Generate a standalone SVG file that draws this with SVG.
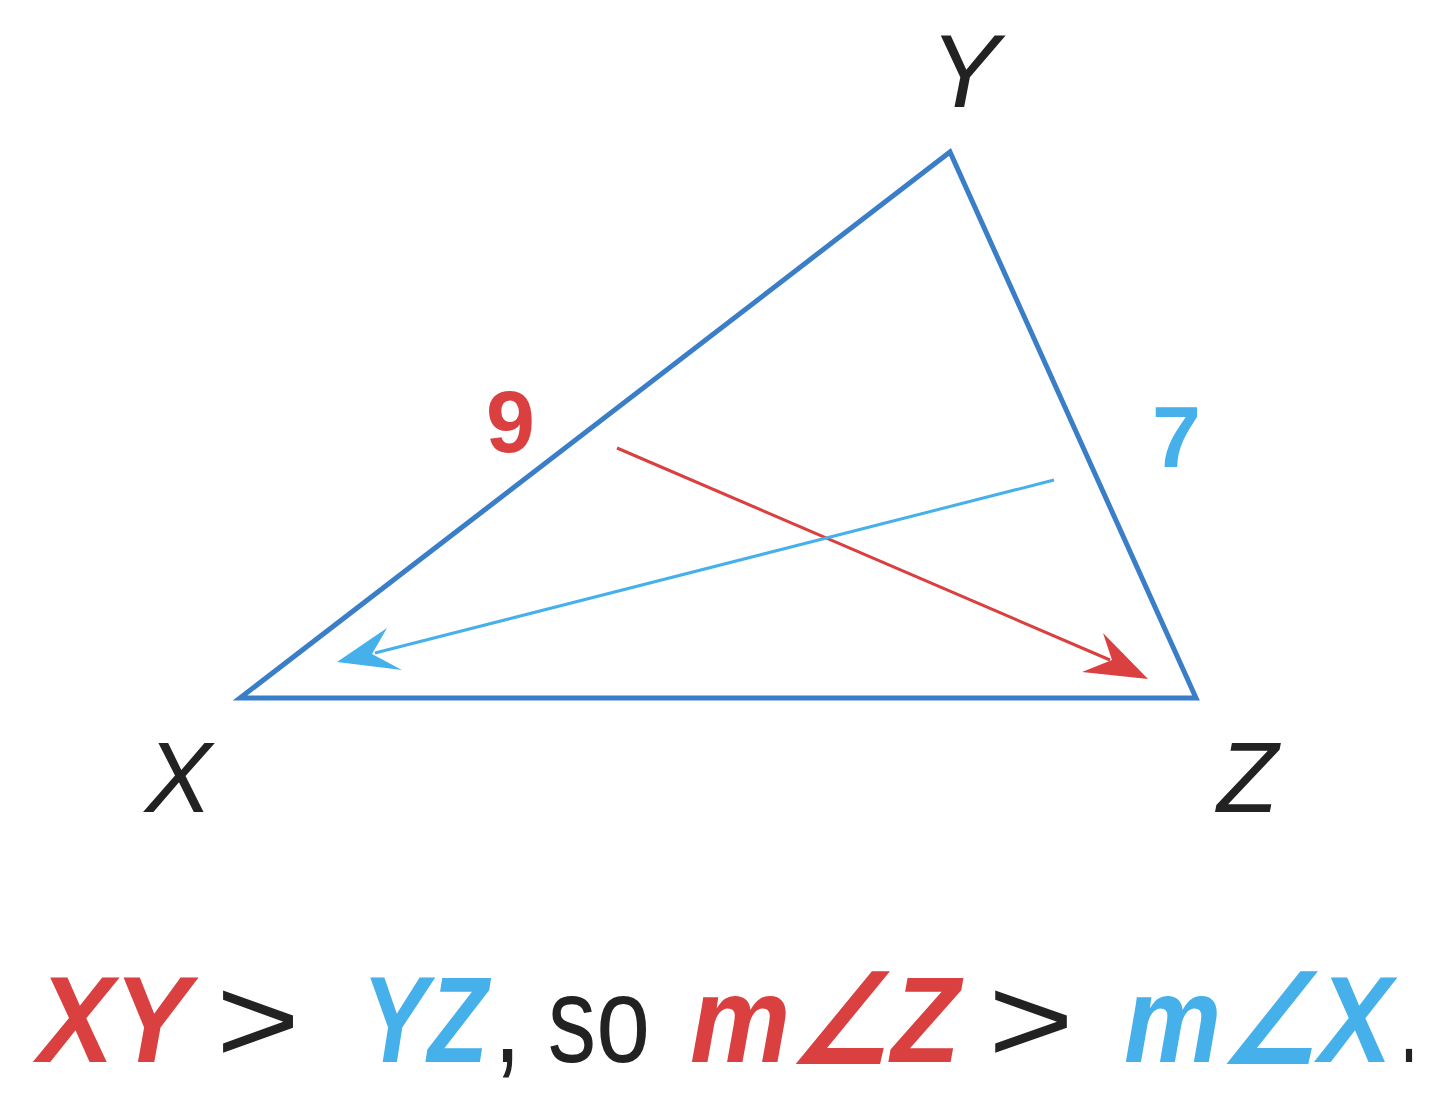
<svg xmlns="http://www.w3.org/2000/svg" width="1440" height="1103" viewBox="0 0 1440 1103">
<style>
.lbl{font-family:"Liberation Sans",Arial,sans-serif;font-style:italic;fill:#222;}
.num{font-family:"Liberation Sans",Arial,sans-serif;font-weight:bold;font-size:88px;}
.eq{font-family:"Liberation Sans",Arial,sans-serif;font-size:122px;fill:#222;}
.b{font-weight:bold;font-style:italic;}
.red{fill:#d9403f;}
.blue{fill:#45b0ea;}
.blk{fill:#222;}
</style>
<rect width="1440" height="1103" fill="#fff"/>
<g id="triangle">
<polygon points="240,698 950,152 1196,698" fill="none" stroke="#3b7ec8" stroke-width="5" stroke-linejoin="miter"/>
</g>
<g id="connectors">
<line x1="617" y1="448" x2="1110" y2="660" stroke="#d9403f" stroke-width="3"/>
<polygon points="1148,679 1103,633 1112,660 1082,672" fill="#d9403f"/>
<line x1="1054" y1="480" x2="375" y2="653" stroke="#45b0ea" stroke-width="3"/>
<polygon points="337,662 387,628 372,654 402,670" fill="#45b0ea"/>
</g>
<g id="vertex-Y"><text class="lbl" x="930" y="107" font-size="104">Y</text></g>
<g id="vertex-X"><text class="lbl" x="145" y="812" font-size="100">X</text></g>
<g id="vertex-Z"><text class="lbl" x="1217" y="812" font-size="100">Z</text></g>
<g id="label-9"><text class="num red" x="486" y="452">9</text></g>
<g id="label-7"><text class="num blue" x="1152" y="467">7</text></g>
<g id="statement">
<text class="eq b red" x="38" y="1062" textLength="152" lengthAdjust="spacingAndGlyphs">XY</text>
<text class="eq blk" x="216" y="1062" textLength="84" lengthAdjust="spacingAndGlyphs">&gt;</text>
<text class="eq b blue" x="362" y="1062" textLength="126" lengthAdjust="spacingAndGlyphs">YZ</text>
<text class="eq blk" x="494" y="1062" textLength="156" lengthAdjust="spacingAndGlyphs">, so</text>
<text class="eq b red" x="690" y="1062" textLength="270" lengthAdjust="spacingAndGlyphs">m∠Z</text>
<text class="eq blk" x="988" y="1062" textLength="86" lengthAdjust="spacingAndGlyphs">&gt;</text>
<text class="eq b blue" x="1124" y="1062" textLength="268" lengthAdjust="spacingAndGlyphs">m∠X</text>
<text class="eq blk" x="1400" y="1062" textLength="18" lengthAdjust="spacingAndGlyphs">.</text>
</g>
</svg>
